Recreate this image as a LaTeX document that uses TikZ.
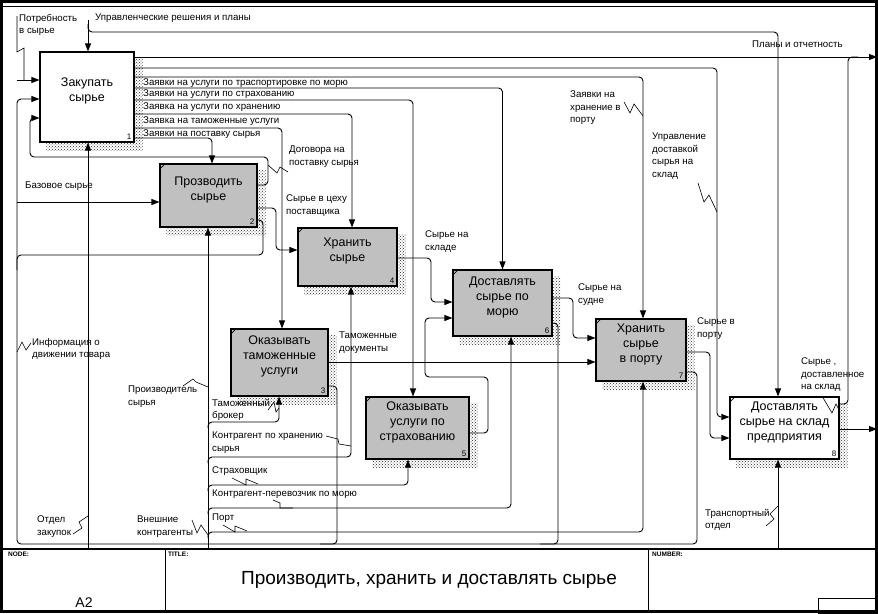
\documentclass[tikz,border=0pt]{standalone}
\usepackage{fontspec}
\setmainfont{Liberation Sans}
\usetikzlibrary{arrows.meta, patterns, backgrounds, calc}
\definecolor{boxgray}{RGB}{192,192,192}
\definecolor{hatchgray}{RGB}{40,40,40}
\newcommand{\lblsize}{\fontsize{9.7}{12.5}\selectfont}
\newcommand{\actsize}{\fontsize{12.5}{15}\selectfont}

\begin{document}
\begin{tikzpicture}[x=1pt, y=-1pt,
    act/.style={draw, line width=1.1pt, fill=white, inner sep=0},
    gact/.style={act, fill=boxgray},
    acttext/.style={font=\actsize, align=center, yshift=6pt},
    num/.style={font=\fontsize{8}{8}\selectfont, inner sep=0, anchor=south east},
    lbl/.style={font=\lblsize, align=left, inner sep=0, anchor=north west},
    tb/.style={font=\fontsize{6.5}{7}\selectfont\bfseries, inner sep=0, anchor=north west},
    arr/.style={line width=0.9pt, rounded corners=4pt, -{Triangle[length=8pt, width=6pt]}},
    ln/.style={line width=0.9pt, rounded corners=4pt},
    sq/.style={line width=0.6pt},
    hatch/.style={pattern=crosshatch dots, pattern color=hatchgray}]
  \useasboundingbox (0,0) rectangle (878,613);

  % рамка и штамп
  \draw[line width=3pt] (1.5,1.5) rectangle (876.5,611.5);
  \draw[line width=1pt] (0,6.5) -- (878,6.5);
  \draw[line width=1.2pt] (0,549) -- (878,549);
  \draw[line width=1pt] (165,549) -- (165,613) (648,549) -- (648,613);
  \draw[line width=1pt] (818,598) rectangle (878,613);
  \node[tb] (node) at (8,552) {NODE:};
  \node[tb] (title) at (168,552) {TITLE:};
  \node[tb] (number) at (652,552) {NUMBER:};
  \node[font=\fontsize{14}{14}\selectfont, inner sep=0] (a2) at (84,603) {A2};
  \node[font=\fontsize{19}{19}\selectfont, inner sep=0] (ttl) at (429,580) {Производить, хранить и доставлять сырье};

  % блоки
  \node[act, minimum width=94pt, minimum height=90pt] (b1) at (87,97) {};
  \node[gact, minimum width=97pt, minimum height=63pt] (b2) at (208.5,195.5) {};
  \node[gact, minimum width=97pt, minimum height=67pt] (b3) at (279.5,362.5) {};
  \node[gact, minimum width=99pt, minimum height=58pt] (b4) at (347.5,257) {};
  \node[gact, minimum width=103pt, minimum height=62pt] (b5) at (417.5,428) {};
  \node[gact, minimum width=99pt, minimum height=66pt] (b6) at (502.5,303) {};
  \node[gact, minimum width=90pt, minimum height=62pt] (b7) at (641,350) {};
  \node[act, minimum width=109pt, minimum height=62pt] (b8) at (784.5,428) {};

  \node[acttext] (t1) at (b1) {Закупать\\сырье};
  \node[acttext] (t2) at (b2) {Прозводить\\сырье};
  \node[acttext] (t3) at (b3) {Оказывать\\таможенные\\услуги};
  \node[acttext] (t4) at (b4) {Хранить\\сырье};
  \node[acttext] (t5) at (b5) {Оказывать\\услуги по\\страхованию};
  \node[acttext] (t6) at (b6) {Доставлять\\сырье по\\морю};
  \node[acttext] (t7) at (b7) {Хранить\\сырье\\в порту};
  \node[acttext] (t8) at (b8) {Доставлять\\сырье на склад\\предприятия};

  \foreach \b/\n in {b1/1, b2/2, b3/3, b4/4, b5/5, b6/6, b7/7, b8/8}
    \node[num] (n\n) at ([shift={(-3pt,3pt)}]\b.south east) {\n};
  \foreach \b in {b2, b3, b4, b5, b6, b7, b8}
    \draw[sq] ([yshift=-6pt]\b.north west) -- ([xshift=6pt]\b.north west);

  % тени
  \begin{scope}[on background layer]
    \foreach \b in {b1, b2, b3, b4, b5, b6, b7, b8}
      \fill[hatch] ($(\b.north west)+(7,7)$) rectangle ($(\b.south east)+(8,8)$);
  \end{scope}

  % свободные концы
  \coordinate (ctlTop) at (88,20);
  \coordinate (inNeed) at (17,80);
  \coordinate (inBase) at (17,202);
  \coordinate (outPlans) at (877,57);
  \coordinate (outStock) at (877,429);
  \coordinate (mechBuy) at (88,549);
  \coordinate (mechExt) at (208,549);
  \coordinate (mechTrans) at (778,549);

  % управление
  \draw[arr] (ctlTop) -- (b1.north -| ctlTop);
  \draw[arr] (88,24) |- (778,32) -- (b8.north -| mechTrans);

  % выходы блока 1
  \draw[arr] (b1.east |- outPlans) -- (outPlans);
  \draw[ln] (b8.east |- 0,404) -| (848,57) -- (858,57);
  \draw[arr] (b1.east |- 0,68) -| (717,417) -- (b8.west |- 0,417);
  \draw[arr] (b1.east |- 0,77) -| ([xshift=2pt]b7.north);
  \draw[arr] (b1.east |- 0,88) -| (b6.north);
  \draw[arr] (b1.east |- 0,100) -| ([xshift=-4.5pt]b5.north);
  \draw[arr] (b1.east |- 0,114) -| ([xshift=4.5pt]b4.north);
  \draw[arr] (b1.east |- 0,128) -| ([xshift=2.5pt]b3.north);
  \draw[arr] (b1.east |- 0,138) -| ([xshift=3.5pt]b2.north);

  % входы
  \draw[arr] (inNeed) -- (b1.west |- inNeed);
  \draw[arr] (inBase) -- (b2.west |- inBase);

  % обратные связи
  \draw[arr] (b7.east |- 0,372) -| (697,544) -| (17,99) -- (b1.west |- 0,99);
  \draw[ln] (b6.east |- 0,323) -| (558,544) -- (540,544);
  \draw[ln] (b3.east |- 0,386) -| (337,544) -- (320,544);
  \draw[ln] (b2.east |- 0,220) -| (263,255) -| (17,270);
  \draw[arr] (b2.east |- 0,185) -| (268,157) -| (30,118) -- (b1.west |- 0,118);

  % потоки между блоками
  \draw[arr] (b2.east |- 0,208) -| (276,250) -- (b4.west |- 0,250);
  \draw[arr] (b4.east |- 0,258) -| (431,302) -- (b6.west |- 0,302);
  \draw[arr] (b5.east |- 0,433) -| (488,377) -| (425,318) -- (b6.west |- 0,318);
  \draw[arr] (b6.east |- 0,298) -| (573,338) -- (b7.west |- 0,338);
  \draw[arr] (b3.east |- 0,362) -- (b7.west |- 0,362);
  \draw[arr] (b7.east |- 0,352) -| (710,438) -- (b8.west |- 0,438);
  \draw[arr] (b8.east |- outStock) -- (outStock);

  % механизмы
  \draw[arr] (mechBuy) -- (b1.south -| mechBuy);
  \draw[arr] (mechExt) -- (b2.south -| mechExt);
  \draw[arr] (208,428) |- (279,422) -- (b3.south -| 279,0);
  \draw[arr] (208,463) |- (351,457) -- (b4.south -| 351,0);
  \draw[arr] (208,491) |- (408,485) -- (b5.south -| 408,0);
  \draw[arr] (208,514) |- (511,508) -- (b6.south -| 511,0);
  \draw[arr] (208,538) |- (643,532) -- (b7.south -| 643,0);
  \draw[arr] (mechTrans) -- (b8.south -| mechTrans);

  % подписи
  \node[lbl] (lCtl) at (95,14) {Управленческие решения и планы};
  \node[lbl] (lNeed) at (19,14) {Потребность\\в сырье};
  \node[lbl] (lPlans) at (752,41) {Планы и отчетность};
  \node[lbl] (lTr) at (143,79) {Заявки на услуги по траспортировке по морю};
  \node[lbl] (lIns) at (143,90) {Заявки на услуги по страхованию};
  \node[lbl] (lSto) at (143,103) {Заявка на услуги по хранению};
  \node[lbl] (lCus) at (143,117) {Заявка на таможенные услуги};
  \node[lbl] (lSup) at (143,129.5) {Заявки на поставку сырья};
  \node[lbl] (lContr) at (289,146) {Договора на\\поставку сырья};
  \node[lbl] (lBase) at (25,182) {Базовое сырье};
  \node[lbl] (lShop) at (286,195) {Сырье в цеху\\поставщика};
  \node[lbl] (lWh) at (425,231) {Сырье на\\складе};
  \node[lbl] (lPortReq) at (570,91) {Заявки на\\хранение в\\порту};
  \node[lbl] (lDctl) at (652,133) {Управление\\доставкой\\сырья на\\склад};
  \node[lbl] (lShip) at (578,284) {Сырье на\\судне};
  \node[lbl] (lDocs) at (339,332) {Таможенные\\документы};
  \node[lbl] (lPort) at (697,318) {Сырье в\\порту};
  \node[lbl] (lDeliv) at (801,358) {Сырье ,\\доставленное\\на склад};
  \node[lbl] (lInfo) at (32,338) {Информация о\\движении товара};
  \node[lbl] (lProd) at (128,386) {Производитель\\сырья};
  \node[lbl] (lBroker) at (212,399) {Таможенный\\брокер};
  \node[lbl] (lStor) at (212,432) {Контрагент по хранению\\сырья};
  \node[lbl] (lInsr) at (212,467) {Страховщик};
  \node[lbl] (lCarr) at (212,490) {Контрагент-перевозчик по морю};
  \node[lbl] (lPortM) at (212,514) {Порт};
  \node[lbl] (lDept) at (37,516) {Отдел\\закупок};
  \node[lbl] (lExt) at (137,516) {Внешние\\контрагенты};
  \node[lbl] (lTdep) at (705,509) {Транспортный\\отдел};

  % зигзаги подписей
  \draw[sq] (17,16) -- (17,52) -- (24,48) -- (24,80);
  \draw[sq] (268,165) -- (277,173) -- (280,167) -- (288,172);
  \draw[sq] (624,102) -- (630,113) -- (634,104) -- (643,116);
  \draw[sq] (698,183) -- (704,202) -- (709,195) -- (717,212);
  \draw[sq] (17,352) -- (22,342) -- (26,350) -- (31,343);
  \draw[sq] (183,386) -- (193,379) -- (196,382) -- (208,387);
  \draw[sq] (268,410) -- (274,402) -- (276,412) -- (279,408);
  \draw[sq] (326,436) -- (338,439) -- (339,444) -- (351,446);
  \draw[sq] (232,478) -- (246,485) -- (246,479) -- (258,484);
  \draw[sq] (273,500) -- (280,503) -- (280,508) -- (293,508);
  \draw[sq] (223,525) -- (235,532) -- (235,526) -- (247,531);
  \draw[sq] (73,534) -- (82,528) -- (79,522) -- (88,516);
  \draw[sq] (192,520) -- (197,533) -- (201,525) -- (208,535);
  \draw[sq] (766,526) -- (774,519) -- (770,514) -- (778,506);
  \draw[sq] (822,396) -- (832,413) -- (836,404) -- (840,412);
\end{tikzpicture}
\end{document}
